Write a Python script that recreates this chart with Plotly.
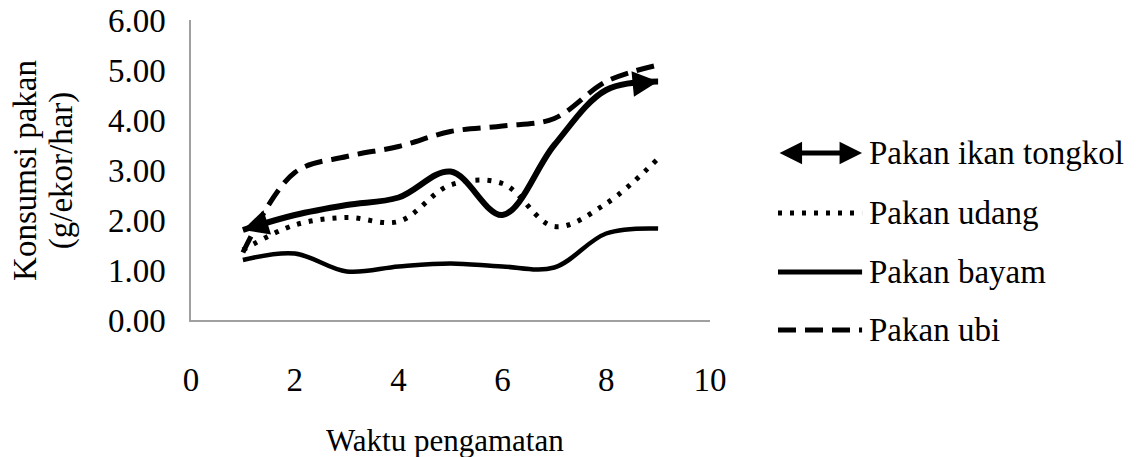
import plotly.graph_objects as go

# observation times
waktu = [1, 2, 3, 4, 5, 6, 7, 8, 9]

# consumption (g/ekor/hari)
ikan_tongkol = [1.80, 2.10, 2.30, 2.45, 2.97, 2.10, 3.50, 4.60, 4.77]
udang = [1.40, 1.90, 2.05, 1.97, 2.70, 2.73, 1.87, 2.33, 3.23]
bayam = [1.20, 1.33, 0.97, 1.07, 1.13, 1.07, 1.05, 1.73, 1.83]
ubi = [1.35, 2.95, 3.27, 3.47, 3.77, 3.88, 4.03, 4.77, 5.10]

legend_names = ["Pakan ikan tongkol", "Pakan udang", "Pakan bayam", "Pakan ubi"]
x_ticks = [0, 2, 4, 6, 8, 10]
y_ticks = [0, 1, 2, 3, 4, 5, 6]

FONT = "Liberation Serif"

fig = go.Figure()

fig.add_trace(go.Scatter(
    x=waktu, y=bayam, mode="lines",
    line=dict(color="black", width=4.5, shape="spline"),
    showlegend=False))

fig.add_trace(go.Scatter(
    x=waktu, y=udang, mode="lines",
    line=dict(color="black", width=5, shape="spline", dash="4px,8px"),
    showlegend=False))

fig.add_trace(go.Scatter(
    x=waktu, y=ubi, mode="lines",
    line=dict(color="black", width=5, shape="spline", dash="18px,9px"),
    showlegend=False))

fig.add_trace(go.Scatter(
    x=waktu, y=ikan_tongkol, mode="lines",
    line=dict(color="black", width=6, shape="spline"),
    showlegend=False))

# arrow heads at both ends of the ikan tongkol curve
head_style = dict(xref="x", yref="y", axref="x", ayref="y", text="",
                  showarrow=True, arrowhead=2, arrowsize=0.85,
                  arrowwidth=6, arrowcolor="black", standoff=0)
fig.add_annotation(x=waktu[0], y=ikan_tongkol[0],
                   ax=waktu[0] + 0.4, ay=ikan_tongkol[0] + 0.13, **head_style)
fig.add_annotation(x=waktu[-1], y=ikan_tongkol[-1],
                   ax=waktu[-1] - 0.4, ay=ikan_tongkol[-1] - 0.04, **head_style)

# hand-made legend on the right
rows = [0.557, 0.357, 0.16, -0.033]
x0, x1, xt = 1.131, 1.293, 1.303

fig.add_annotation(
    x=x1, y=rows[0], xref="paper", yref="paper", ax=-84, ay=0,
    text="", showarrow=True, arrowside="end+start", arrowhead=2,
    arrowsize=0.9, arrowwidth=5, arrowcolor="black")
fig.add_shape(type="line", xref="paper", yref="paper",
              x0=x0, x1=x1, y0=rows[1], y1=rows[1],
              line=dict(color="black", width=5, dash="4px,8px"))
fig.add_shape(type="line", xref="paper", yref="paper",
              x0=x0, x1=x1, y0=rows[2], y1=rows[2],
              line=dict(color="black", width=5))
fig.add_shape(type="line", xref="paper", yref="paper",
              x0=x0, x1=x1, y0=rows[3], y1=rows[3],
              line=dict(color="black", width=5, dash="18px,9px"))

for name, ry in zip(legend_names, rows):
    fig.add_annotation(x=xt, y=ry, xref="paper", yref="paper",
                       text=name, showarrow=False, xanchor="left",
                       yanchor="middle", font=dict(size=33, color="black"))

# axis titles (y title as two rotated lines)
for txt, tx in [("Konsumsi pakan", -0.320), ("(g/ekor/har)", -0.250)]:
    fig.add_annotation(x=tx, y=0.5, xref="paper", yref="paper",
                       text=txt, textangle=-90,
                       xanchor="center", yanchor="middle",
                       showarrow=False, font=dict(size=33, color="black"))
fig.add_annotation(x=0.489, y=-0.4, xref="paper", yref="paper",
                   text="Waktu pengamatan", showarrow=False,
                   xanchor="center", yanchor="middle",
                   font=dict(size=31, color="black"))

fig.update_layout(
    width=1137, height=457,
    margin=dict(l=191, r=427, t=20, b=137),
    plot_bgcolor="white", paper_bgcolor="white",
    font=dict(family=FONT, size=33, color="black"),
    showlegend=False,
)

fig.update_xaxes(
    range=[0, 10], tickvals=x_ticks, showgrid=False, zeroline=False,
    showline=True, linecolor="#a0a0a0", linewidth=1.5, automargin=False,
    ticks="", ticklabelstandoff=30, ticklabeloverflow="allow")
fig.update_yaxes(
    range=[0, 6], tickvals=y_ticks, tickformat=".2f", showgrid=False,
    zeroline=False, showline=True, linecolor="#a0a0a0", linewidth=1.5,
    automargin=False, ticks="", ticklabelstandoff=17,
    ticklabeloverflow="allow")

# drop the default 8px page margin so the figure fills the window
fig.write_html("out.html", config={"displayModeBar": False},
               post_script="document.body.style.margin='0';")
